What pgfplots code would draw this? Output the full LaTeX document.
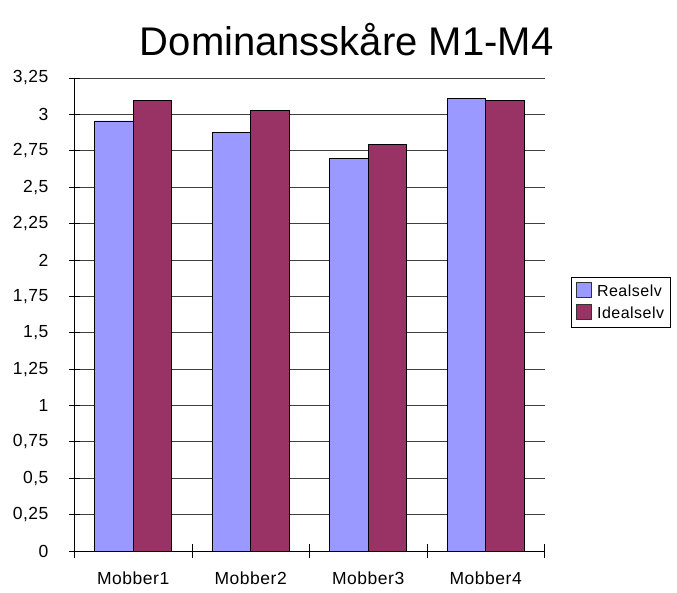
\documentclass[border=0pt]{standalone}
\usepackage{fontspec}
\setmainfont{Liberation Sans}
\usepackage{pgfplots}
\pgfplotsset{compat=1.18}
\usetikzlibrary{calc}
\definecolor{realc}{HTML}{9999FF}
\definecolor{idealc}{HTML}{993366}

\begin{document}
\begin{tikzpicture}
\begin{axis}[
  name=ax,
  scale only axis, width=470pt, height=473pt,
  ybar=0pt, bar width=38.5pt,
  xmin=-0.5, xmax=3.5, ymin=0, ymax=3.25,
  xtick={0,1,2,3}, xticklabels={Mobber1,Mobber2,Mobber3,Mobber4},
  xtick style={draw=none},
  extra x ticks={-0.5,0.5,1.5,2.5,3.5}, extra x tick labels={},
  extra x tick style={grid=none, major tick length=14pt, xtick style={draw=black, line width=0.8pt}},
  ytick={0,0.25,...,3.25},
  ytick style={draw=black, line width=0.8pt},
  tick align=outside, major tick length=11pt,
  axis x line=bottom, axis y line=left,
  axis line style={-, line width=0.9pt, black},
  ymajorgrids, grid style={black!75, line width=0.8pt},
  /pgf/number format/assume math mode=true,
  /pgf/number format/use comma, /pgf/number format/fixed,
  /pgf/number format/precision=2,
  tick label style={font=\fontsize{17.5}{20}\selectfont\addfontfeatures{LetterSpace=3}},
  yticklabel style={xshift=-17pt},
  xticklabel style={yshift=-12pt},
  title={Dominansskåre M1-M4},
  title style={font=\fontsize{40}{46}\selectfont, at={(rel axis cs:0.579,1.034)}, anchor=base},
  legend style={at={(rel axis cs:1.057,0.526)}, anchor=west, draw=black,
    font=\fontsize{16}{19}\selectfont\addfontfeatures{LetterSpace=3}, inner xsep=4pt, inner ysep=5pt, row sep=4pt, line width=0.8pt},
  legend image code/.code={\draw[#1, draw=black!80] (0pt,-6pt) rectangle (15pt,9pt); \path[draw=none, fill=none] (0pt,0pt) rectangle (19pt,0.1pt);},
  legend cell align=left,
]
\addplot[fill=realc, draw=black, line width=0.8pt] coordinates {(0,2.955) (1,2.875) (2,2.70) (3,3.11)};
\addlegendentry{Realselv}
\addplot[fill=idealc, draw=black, line width=0.8pt] coordinates {(0,3.095) (1,3.03) (2,2.795) (3,3.095)};
\addlegendentry{Idealselv}
\end{axis}
\pgfresetboundingbox
\path ($(ax.south west)+(-74.5pt,-42pt)$) rectangle ($(ax.north east)+(132.5pt,78pt)$);
\end{tikzpicture}
\end{document}
